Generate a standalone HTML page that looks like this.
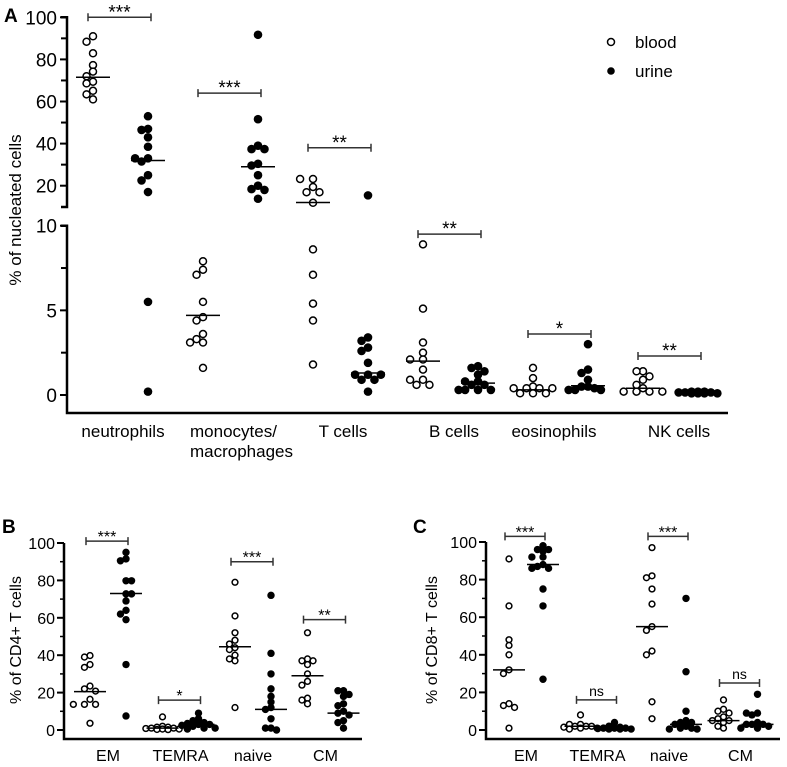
<!DOCTYPE html>
<html><head><meta charset="utf-8"><style>
body{margin:0;background:#fff}
svg{display:block;font-family:"Liberation Sans",Arial,sans-serif}
</style></head><body>
<svg id="fig" width="787" height="767" viewBox="0 0 787 767">
<text x="4" y="22" font-size="19" font-weight="bold">A</text>
<text x="2" y="533" font-size="19" font-weight="bold">B</text>
<text x="413" y="533" font-size="19" font-weight="bold">C</text>
<g>
<circle cx="611" cy="42" r="3.5" fill="#fff" stroke="#000" stroke-width="1.5"/>
<text x="635" y="48" font-size="17">blood</text>
<circle cx="611" cy="71" r="3.8" fill="#000"/>
<text x="635" y="77" font-size="17">urine</text>
</g>
<text transform="translate(21,210) rotate(-90)" text-anchor="middle" font-size="17">% of nucleated cells</text>
<text transform="translate(21,640) rotate(-90)" text-anchor="middle" font-size="16">% of CD4+ T cells</text>
<text transform="translate(437,640) rotate(-90)" text-anchor="middle" font-size="16">% of CD8+ T cells</text>
<g id="layer"></g>
</svg>
<script>
// ---------- Panel A data ----------
const aCategories = ["neutrophils","monocytes/macrophages","T cells","B cells","eosinophils","NK cells"];
const aBlood = [
 [91,88.4,82.9,77.3,74.2,72,69.4,68.6,65.1,63.4,61],
 [7.9,7.4,7.1,5.5,4.6,4.4,3.6,3.3,3.1,3.1,1.6],
 [23.2,23.2,19.4,16.9,16.9,11.9,8.6,7.1,5.4,4.4,1.8],
 [8.9,5.1,3.1,2.5,2.1,2.1,1.5,0.9,0.9,0.6,0.6],
 [1.6,1.0,0.5,0.4,0.4,0.4,0.4,0.1,0.1,0.1],
 [1.4,1.4,1.1,0.9,0.6,0.4,0.2,0.2,0.2,0.2]
];
const aUrine = [
 [53,47,46.5,43,38.5,33,33,31.5,25,22.5,17,5.5,0.2],
 [91.7,51.6,39,37.4,37.4,30.4,29.6,25,20,18.4,18,13.8],
 [15.4,3.4,3.2,2.8,2.6,1.9,1.2,1.2,1.2,0.9,0.9,0.2],
 [1.7,1.6,1.4,1.2,0.8,0.8,0.3,0.3,0.3,0.3,0.6,0.6],
 [3.0,1.5,1.3,0.9,0.5,0.3,0.3,0.3,0.4,0.5],
 [0.2,0.2,0.15,0.15,0.1,0.1,0.1,0.15,0.2,0.1]
];
const aBloodMedian = [71.5,4.7,12,2.0,0.3,0.4];
const aUrineMedian = [32,29,1.3,0.7,0.55,0.15];
const aSig = ["***","***","**","**","*","**"];
const aSigLevel = [100,64,38,9.5,3.6,2.3];
const aTicksUpper = [20,40,60,80,100];
const aTicksLower = [0,5,10];
// ---------- Panel B data ----------
const bcCategories = ["EM","TEMRA","naive","CM"];
const bBlood = [
 [39.8,39,35,33.5,23.5,22,20.8,16.4,13.7,13.7,13.7,3.6],
 [7,2,1.5,1.5,1,1,0.8,0.5,0.5,0.3,0.2],
 [79,61,52,48,46,44,43,40,38,37,12],
 [52,38,37,37,35,30,26,24,17,16,14]
];
const bUrine = [
 [95,91.5,90.5,79.8,79.8,72.8,72.8,69,64,62,59,35,7.5],
 [9,6,5,4,3.5,3,3,2.5,2,1,1,0.5],
 [72,41,30,22,18,15,12,11,6,1,1,0],
 [21,21,19,18,14,13,10,9,8,5,4,1]
];
const bBloodMedian = [20.5,1,44.5,29];
const bUrineMedian = [73,3,11,9];
const bSig = ["***","*","***","**"];
const bSigLevel = [101,16,90,59];
// ---------- Panel C data ----------
const cBlood = [
 [91,66,48,45,40,32,30,14,13,12,1],
 [8,3,3,2,2,2,1.5,1,1,0.5],
 [97,82,81,75,67,55,53,42,40,15,6],
 [16,11,10,9,7,6,5,5,4,2,1]
];
const cUrine = [
 [98,96,96,95,92,92,88,87,86,86,75,66,27],
 [4,2,1.5,1,1,1,0.8,0.5,0.5,0.5],
 [70,31,10,5,4,4,3,2,1,1,0.5,0.5],
 [19,9,9,8,4,3,3,3,2,1,1]
];
const cBloodMedian = [32,2,55,5];
const cUrineMedian = [88,1,3,3];
const cSig = ["***","ns","***","ns"];
const cSigLevel = [103,16,103,25];
const bcTicks = [0,20,40,60,80,100];

const NS="http://www.w3.org/2000/svg";
const layer=document.getElementById('layer');
function mk(tag,attrs,parent){const e=document.createElementNS(NS,tag);for(const k in attrs)e.setAttribute(k,attrs[k]);(parent||layer).appendChild(e);return e;}

// scales
function yA(v){ if(v>=11) return 17.3+(100-v)*2.105; return 395-v*16.93; }
function xA(i,s){ return 93+i*110+s*55; }
function yB(v){ return 730-v*1.87; }
function xB(i,s){ return 90+i*72.5+s*36; }
function yC(v){ return 730-v*1.88; }
function xC(i,s){ return 509+i*71.5+s*34; }

function swarm(vals,cx,yf,r,g,filled,name){
  const placed=[];
  const sorted=vals.slice().sort((a,b)=>b-a);
  const step=r*1.5, minD=r*1.5;
  sorted.forEach(v=>{
    const y=yf(v);
    const cands=[0,-1,1,-2,2,-3,3];
    let best=cx,bestD=-1;
    for(const c of cands){
      const x=cx+c*step;
      const d=placed.length?Math.min(...placed.map(p=>Math.hypot(p[0]-x,p[1]-y))):99;
      if(d>=minD){best=x;bestD=d;break;}
      if(d>bestD){bestD=d;best=x;}
    }
    placed.push([best,y]);
    const e=mk('circle',{cx:best,cy:y,r:filled?r:r-0.8,fill:filled?'#000':'#fff',stroke:'#000','stroke-width':filled?0:1.5},g);
    
    
  });
}
function median(cx,y,half,g,name){
  const e=mk('line',{x1:cx-half,x2:cx+half,y1:y,y2:y,stroke:'#000','stroke-width':1.5},g);
  
  
}
function bracket(x1,x2,y,label,fs,g,name){
  const b=mk('g',{},g);
  
  
  mk('path',{d:`M${x1},${y-4}V${y+4}M${x1},${y}H${x2}M${x2},${y-4}V${y+4}`,stroke:'#333','stroke-width':1.5,fill:'none'},b);
  const t=mk('text',{x:(x1+x2)/2,y:label==='ns'?y-4:y+1,'text-anchor':'middle','font-size':label==='ns'?fs+1:fs+3},b);
  t.textContent=label;
}

// ---- Panel A ----
const gA=mk('g',{});


mk('path',{d:'M61,17.3H67V207H61M61,225.7H67V413H728',stroke:'#000','stroke-width':2.5,fill:'none'},gA);
[30,50,70,90].forEach(v=>mk('line',{x1:61,x2:67,y1:yA(v),y2:yA(v),stroke:'#000','stroke-width':2},gA));
[2.5,7.5].forEach(v=>mk('line',{x1:61,x2:67,y1:yA(v),y2:yA(v),stroke:'#000','stroke-width':2},gA));
aTicksUpper.concat(aTicksLower).forEach(v=>{
  mk('line',{x1:60,x2:67,y1:yA(v),y2:yA(v),stroke:'#000','stroke-width':2},gA);
  const t=mk('text',{x:57,y:yA(v)+7,'text-anchor':'end','font-size':19},gA);
  t.textContent=v;
  
  
});
const aLab=[[123,"neutrophils","middle"],[190,"monocytes/","start"],[343,"T cells","middle"],[454,"B cells","middle"],[554,"eosinophils","middle"],[679,"NK cells","middle"]];
aCategories.forEach((c,i)=>{
  const t=mk('text',{x:aLab[i][0],y:437,'text-anchor':aLab[i][2],'font-size':17},gA);
  t.textContent=aLab[i][1];
  
  
  if(i===1){const t2=mk('text',{x:190,y:457,'font-size':17},gA);t2.textContent="macrophages";}
  swarm(aBlood[i],xA(i,0),yA,4.3,gA,false,'blood-point');
  swarm(aUrine[i],xA(i,1),yA,4.3,gA,true,'urine-point');
  median(xA(i,0),yA(aBloodMedian[i]),17,gA,'blood-median');
  median(xA(i,1),yA(aUrineMedian[i]),17,gA,'urine-median');
  bracket(xA(i,0)-5,xA(i,1)+3,yA(aSigLevel[i]),aSig[i],16,gA,'significance-bracket');
});

// ---- Panels B & C ----
function panel(axX,endX,yf,xf,blood,urine,bm,um,sig,sigLv,name){
  const g=mk('g',{});
  
  
  mk('path',{d:`M${axX},${yf(100)}V739H${endX}`,stroke:'#000','stroke-width':2.5,fill:'none'},g);
  [10,30,50,70,90].forEach(v=>mk('line',{x1:axX-4,x2:axX,y1:yf(v),y2:yf(v),stroke:'#000','stroke-width':1.5},g));
  bcTicks.forEach(v=>{
    mk('line',{x1:axX-7,x2:axX,y1:yf(v),y2:yf(v),stroke:'#000','stroke-width':2},g);
    const t=mk('text',{x:axX-9,y:yf(v)+6,'text-anchor':'end','font-size':16},g);
    t.textContent=v;
    
    
  });
  bcCategories.forEach((c,i)=>{
    const t=mk('text',{x:(xf(i,0)+xf(i,1))/2,y:761,'text-anchor':'middle','font-size':16},g);
    t.textContent=c;
    
    
    swarm(blood[i],xf(i,0),yf,3.7,g,false,'blood-point');
    swarm(urine[i],xf(i,1),yf,3.7,g,true,'urine-point');
    median(xf(i,0),yf(bm[i]),16,g,'blood-median');
    median(xf(i,1),yf(um[i]),16,g,'urine-median');
    bracket(xf(i,0)-4,xf(i,1)+2,yf(sigLv[i]),sig[i],13,g,'significance-bracket');
  });
}
panel(64,362,yB,xB,bBlood,bUrine,bBloodMedian,bUrineMedian,bSig,bSigLevel,'panel-b-chart');
panel(486,780,yC,xC,cBlood,cUrine,cBloodMedian,cUrineMedian,cSig,cSigLevel,'panel-c-chart');
</script>
</body></html>
